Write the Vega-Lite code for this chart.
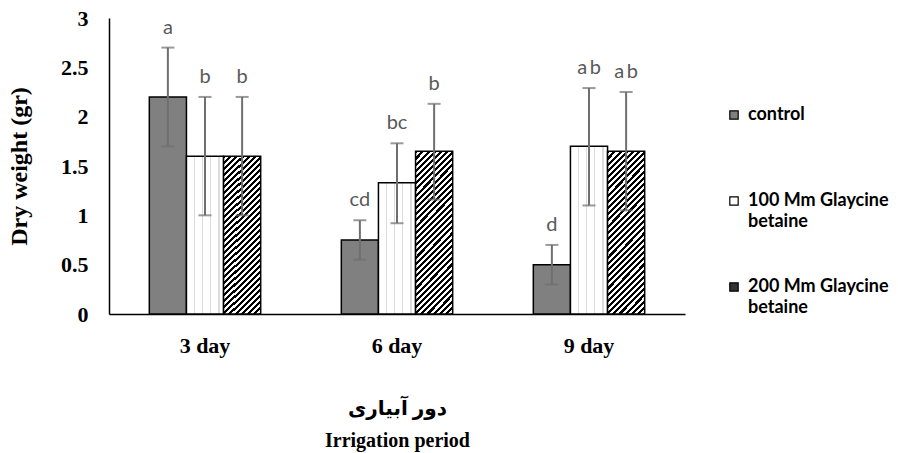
{
  "$schema": "https://vega.github.io/schema/vega-lite/v6.json",
  "autosize": "none",
  "padding": {"left": 109, "top": 18, "right": 213, "bottom": 139},
  "width": 576,
  "height": 296,
  "background": "white",
  "config": {"view": {"stroke": null}},
  "data": {"values": [
    {"period": "3 day", "treat": "control", "mean": 2.2, "lo": 1.7, "hi": 2.7, "label": "a"},
    {"period": "3 day", "treat": "100 Mm Glaycine betaine", "mean": 1.6, "lo": 1.0, "hi": 2.2, "label": "b"},
    {"period": "3 day", "treat": "200 Mm Glaycine betaine", "mean": 1.6, "lo": 1.0, "hi": 2.2, "label": "b"},
    {"period": "6 day", "treat": "control", "mean": 0.75, "lo": 0.55, "hi": 0.95, "label": "cd"},
    {"period": "6 day", "treat": "100 Mm Glaycine betaine", "mean": 1.33, "lo": 0.92, "hi": 1.73, "label": "bc"},
    {"period": "6 day", "treat": "200 Mm Glaycine betaine", "mean": 1.65, "lo": 1.16, "hi": 2.13, "label": "b"},
    {"period": "9 day", "treat": "control", "mean": 0.5, "lo": 0.3, "hi": 0.7, "label": "d"},
    {"period": "9 day", "treat": "100 Mm Glaycine betaine", "mean": 1.7, "lo": 1.1, "hi": 2.29, "label": "a\u2009b"},
    {"period": "9 day", "treat": "200 Mm Glaycine betaine", "mean": 1.65, "lo": 1.05, "hi": 2.25, "label": "a\u2009b"}
  ]},
  "encoding": {
    "x": {
      "field": "period", "type": "nominal",
      "scale": {"paddingInner": 0.42, "paddingOuter": 0.21},
      "axis": {
        "labelAngle": 0, "ticks": false, "tickSize": 0, "domainColor": "black", "domainWidth": 1.5,
        "labelFont": "Liberation Serif", "labelFontWeight": "bold", "labelFontSize": 22, "labelColor": "black",
        "labelPadding": 21, "labelBaseline": "top",
        "title": ["دور آبیاری\u00a0\u00a0\u00a0\u00a0\u00a0\u00a0\u00a0\u00a0\u00a0\u00a0", "Irrigation period"],
        "titleFont": "Liberation Serif, DejaVu Sans", "titleFontWeight": "bold", "titleFontSize": 20, "titleColor": "black",
        "titleY": 100, "titleBaseline": "alphabetic", "titleLineHeight": 32
      }
    },
    "xOffset": {
      "field": "treat", "type": "nominal",
      "sort": ["control", "100 Mm Glaycine betaine", "200 Mm Glaycine betaine"],
      "scale": {"paddingInner": 0, "paddingOuter": 0}
    }
  },
  "layer": [
    {
      "mark": {"type": "bar", "stroke": "black", "strokeWidth": 1.5},
      "encoding": {
        "y": {
          "field": "mean", "type": "quantitative",
          "scale": {"domain": [0, 3], "nice": false},
          "axis": {
            "values": [0, 0.5, 1, 1.5, 2, 2.5, 3], "format": "~g", "grid": false, "ticks": false, "tickSize": 0,
            "domainColor": "black", "domainWidth": 1.5,
            "labelFont": "Liberation Serif", "labelFontWeight": "bold", "labelFontSize": 22, "labelColor": "black",
            "labelPadding": 21,
            "title": "Dry weight (gr)", "titleFont": "Liberation Serif", "titleFontWeight": "bold", "titleFontSize": 24,
            "titleColor": "black", "titlePadding": 29
          }
        },
        "fill": {
          "field": "treat", "type": "nominal",
          "scale": {"domain": ["control", "100 Mm Glaycine betaine", "200 Mm Glaycine betaine"], "range": ["#808080", "#ffffff", "#333333"]},
          "condition": [
            {"test": "datum.treat === '200 Mm Glaycine betaine'", "value": {"gradient": "linear", "x1": 0, "y1": 0, "x2": 0.3, "y2": 1.3, "stops": [
              {"offset": 0.0000, "color": "#000"}, {"offset": 0.0139, "color": "#000"},
              {"offset": 0.0139, "color": "#fff"}, {"offset": 0.0278, "color": "#fff"},
              {"offset": 0.0278, "color": "#000"}, {"offset": 0.0417, "color": "#000"},
              {"offset": 0.0417, "color": "#fff"}, {"offset": 0.0556, "color": "#fff"},
              {"offset": 0.0556, "color": "#000"}, {"offset": 0.0694, "color": "#000"},
              {"offset": 0.0694, "color": "#fff"}, {"offset": 0.0833, "color": "#fff"},
              {"offset": 0.0833, "color": "#000"}, {"offset": 0.0972, "color": "#000"},
              {"offset": 0.0972, "color": "#fff"}, {"offset": 0.1111, "color": "#fff"},
              {"offset": 0.1111, "color": "#000"}, {"offset": 0.1250, "color": "#000"},
              {"offset": 0.1250, "color": "#fff"}, {"offset": 0.1389, "color": "#fff"},
              {"offset": 0.1389, "color": "#000"}, {"offset": 0.1528, "color": "#000"},
              {"offset": 0.1528, "color": "#fff"}, {"offset": 0.1667, "color": "#fff"},
              {"offset": 0.1667, "color": "#000"}, {"offset": 0.1806, "color": "#000"},
              {"offset": 0.1806, "color": "#fff"}, {"offset": 0.1944, "color": "#fff"},
              {"offset": 0.1944, "color": "#000"}, {"offset": 0.2083, "color": "#000"},
              {"offset": 0.2083, "color": "#fff"}, {"offset": 0.2222, "color": "#fff"},
              {"offset": 0.2222, "color": "#000"}, {"offset": 0.2361, "color": "#000"},
              {"offset": 0.2361, "color": "#fff"}, {"offset": 0.2500, "color": "#fff"},
              {"offset": 0.2500, "color": "#000"}, {"offset": 0.2639, "color": "#000"},
              {"offset": 0.2639, "color": "#fff"}, {"offset": 0.2778, "color": "#fff"},
              {"offset": 0.2778, "color": "#000"}, {"offset": 0.2917, "color": "#000"},
              {"offset": 0.2917, "color": "#fff"}, {"offset": 0.3056, "color": "#fff"},
              {"offset": 0.3056, "color": "#000"}, {"offset": 0.3194, "color": "#000"},
              {"offset": 0.3194, "color": "#fff"}, {"offset": 0.3333, "color": "#fff"},
              {"offset": 0.3333, "color": "#000"}, {"offset": 0.3472, "color": "#000"},
              {"offset": 0.3472, "color": "#fff"}, {"offset": 0.3611, "color": "#fff"},
              {"offset": 0.3611, "color": "#000"}, {"offset": 0.3750, "color": "#000"},
              {"offset": 0.3750, "color": "#fff"}, {"offset": 0.3889, "color": "#fff"},
              {"offset": 0.3889, "color": "#000"}, {"offset": 0.4028, "color": "#000"},
              {"offset": 0.4028, "color": "#fff"}, {"offset": 0.4167, "color": "#fff"},
              {"offset": 0.4167, "color": "#000"}, {"offset": 0.4306, "color": "#000"},
              {"offset": 0.4306, "color": "#fff"}, {"offset": 0.4444, "color": "#fff"},
              {"offset": 0.4444, "color": "#000"}, {"offset": 0.4583, "color": "#000"},
              {"offset": 0.4583, "color": "#fff"}, {"offset": 0.4722, "color": "#fff"},
              {"offset": 0.4722, "color": "#000"}, {"offset": 0.4861, "color": "#000"},
              {"offset": 0.4861, "color": "#fff"}, {"offset": 0.5000, "color": "#fff"},
              {"offset": 0.5000, "color": "#000"}, {"offset": 0.5139, "color": "#000"},
              {"offset": 0.5139, "color": "#fff"}, {"offset": 0.5278, "color": "#fff"},
              {"offset": 0.5278, "color": "#000"}, {"offset": 0.5417, "color": "#000"},
              {"offset": 0.5417, "color": "#fff"}, {"offset": 0.5556, "color": "#fff"},
              {"offset": 0.5556, "color": "#000"}, {"offset": 0.5694, "color": "#000"},
              {"offset": 0.5694, "color": "#fff"}, {"offset": 0.5833, "color": "#fff"},
              {"offset": 0.5833, "color": "#000"}, {"offset": 0.5972, "color": "#000"},
              {"offset": 0.5972, "color": "#fff"}, {"offset": 0.6111, "color": "#fff"},
              {"offset": 0.6111, "color": "#000"}, {"offset": 0.6250, "color": "#000"},
              {"offset": 0.6250, "color": "#fff"}, {"offset": 0.6389, "color": "#fff"},
              {"offset": 0.6389, "color": "#000"}, {"offset": 0.6528, "color": "#000"},
              {"offset": 0.6528, "color": "#fff"}, {"offset": 0.6667, "color": "#fff"},
              {"offset": 0.6667, "color": "#000"}, {"offset": 0.6806, "color": "#000"},
              {"offset": 0.6806, "color": "#fff"}, {"offset": 0.6944, "color": "#fff"},
              {"offset": 0.6944, "color": "#000"}, {"offset": 0.7083, "color": "#000"},
              {"offset": 0.7083, "color": "#fff"}, {"offset": 0.7222, "color": "#fff"},
              {"offset": 0.7222, "color": "#000"}, {"offset": 0.7361, "color": "#000"},
              {"offset": 0.7361, "color": "#fff"}, {"offset": 0.7500, "color": "#fff"},
              {"offset": 0.7500, "color": "#000"}, {"offset": 0.7639, "color": "#000"},
              {"offset": 0.7639, "color": "#fff"}, {"offset": 0.7778, "color": "#fff"},
              {"offset": 0.7778, "color": "#000"}, {"offset": 0.7917, "color": "#000"},
              {"offset": 0.7917, "color": "#fff"}, {"offset": 0.8056, "color": "#fff"},
              {"offset": 0.8056, "color": "#000"}, {"offset": 0.8194, "color": "#000"},
              {"offset": 0.8194, "color": "#fff"}, {"offset": 0.8333, "color": "#fff"},
              {"offset": 0.8333, "color": "#000"}, {"offset": 0.8472, "color": "#000"},
              {"offset": 0.8472, "color": "#fff"}, {"offset": 0.8611, "color": "#fff"},
              {"offset": 0.8611, "color": "#000"}, {"offset": 0.8750, "color": "#000"},
              {"offset": 0.8750, "color": "#fff"}, {"offset": 0.8889, "color": "#fff"},
              {"offset": 0.8889, "color": "#000"}, {"offset": 0.9028, "color": "#000"},
              {"offset": 0.9028, "color": "#fff"}, {"offset": 0.9167, "color": "#fff"},
              {"offset": 0.9167, "color": "#000"}, {"offset": 0.9306, "color": "#000"},
              {"offset": 0.9306, "color": "#fff"}, {"offset": 0.9444, "color": "#fff"},
              {"offset": 0.9444, "color": "#000"}, {"offset": 0.9583, "color": "#000"},
              {"offset": 0.9583, "color": "#fff"}, {"offset": 0.9722, "color": "#fff"},
              {"offset": 0.9722, "color": "#000"}, {"offset": 0.9861, "color": "#000"},
              {"offset": 0.9861, "color": "#fff"}, {"offset": 1.0000, "color": "#fff"}
            ]}},
            {"test": "datum.treat === '100 Mm Glaycine betaine'", "value": {"gradient": "linear", "x1": 0, "y1": 0, "x2": 1, "y2": 0, "stops": [
              {"offset": 0, "color": "#fff"}, {"offset": 0.2, "color": "#fff"},
              {"offset": 0.2, "color": "#dcdcdc"}, {"offset": 0.235, "color": "#dcdcdc"},
              {"offset": 0.235, "color": "#fff"}, {"offset": 0.42, "color": "#fff"},
              {"offset": 0.42, "color": "#dcdcdc"}, {"offset": 0.455, "color": "#dcdcdc"},
              {"offset": 0.455, "color": "#fff"}, {"offset": 0.64, "color": "#fff"},
              {"offset": 0.64, "color": "#dcdcdc"}, {"offset": 0.675, "color": "#dcdcdc"},
              {"offset": 0.675, "color": "#fff"}, {"offset": 0.86, "color": "#fff"},
              {"offset": 0.86, "color": "#dcdcdc"}, {"offset": 0.895, "color": "#dcdcdc"},
              {"offset": 0.895, "color": "#fff"}, {"offset": 1, "color": "#fff"}
            ]}}
          ],
          "legend": {
            "title": null, "orient": "none", "legendX": 616, "legendY": 88, "padding": 0,
            "symbolType": "square", "symbolSize": 70, "symbolStrokeColor": "black", "symbolStrokeWidth": 1,
            "labelFont": "Lato", "labelFontWeight": "bold", "labelFontSize": 18, "labelColor": "black",
            "labelLimit": 250, "labelOffset": 5, "rowPadding": 47,
            "labelExpr": "datum.label === 'control' ? ['control', ' '] : [replace(datum.label, ' betaine', ''), 'betaine']",
            "labelBaseline": "middle",
            "encode": {
              "labels": {"update": {"lineHeight": {"value": 21}}},
              "symbols": {"update": {
                "stroke": {"value": "black"},
                "strokeWidth": {"value": 1.2},
                "fill": [
                {"test": "datum.value === '200 Mm Glaycine betaine'", "value": {"gradient": "linear", "x1": 0, "y1": 0, "x2": 1, "y2": 1, "stops": [
                  {"offset": 0, "color": "#222"}, {"offset": 0.42, "color": "#222"},
                  {"offset": 0.42, "color": "#fff"}, {"offset": 0.58, "color": "#fff"},
                  {"offset": 0.58, "color": "#222"}, {"offset": 1, "color": "#222"}
                ]}},
                {"scale": "fill", "field": "value"}
              ]}}
            }
          }
        }
      }
    },
    {
      "mark": {"type": "rule", "color": "#6f6f6f", "strokeWidth": 2},
      "encoding": {
        "y": {"field": "lo", "type": "quantitative"},
        "y2": {"field": "hi"}
      }
    },
    {
      "mark": {"type": "tick", "color": "#6f6f6f", "size": 13, "thickness": 2, "orient": "horizontal"},
      "encoding": {"y": {"field": "hi", "type": "quantitative"}}
    },
    {
      "mark": {"type": "tick", "color": "#6f6f6f", "size": 13, "thickness": 2, "orient": "horizontal"},
      "encoding": {"y": {"field": "lo", "type": "quantitative"}}
    },
    {
      "mark": {"type": "text", "font": "Lato", "fontSize": 20, "color": "#595959", "baseline": "alphabetic", "dy": -14},
      "encoding": {
        "y": {"field": "hi", "type": "quantitative"},
        "text": {"field": "label"}
      }
    }
  ]
}
